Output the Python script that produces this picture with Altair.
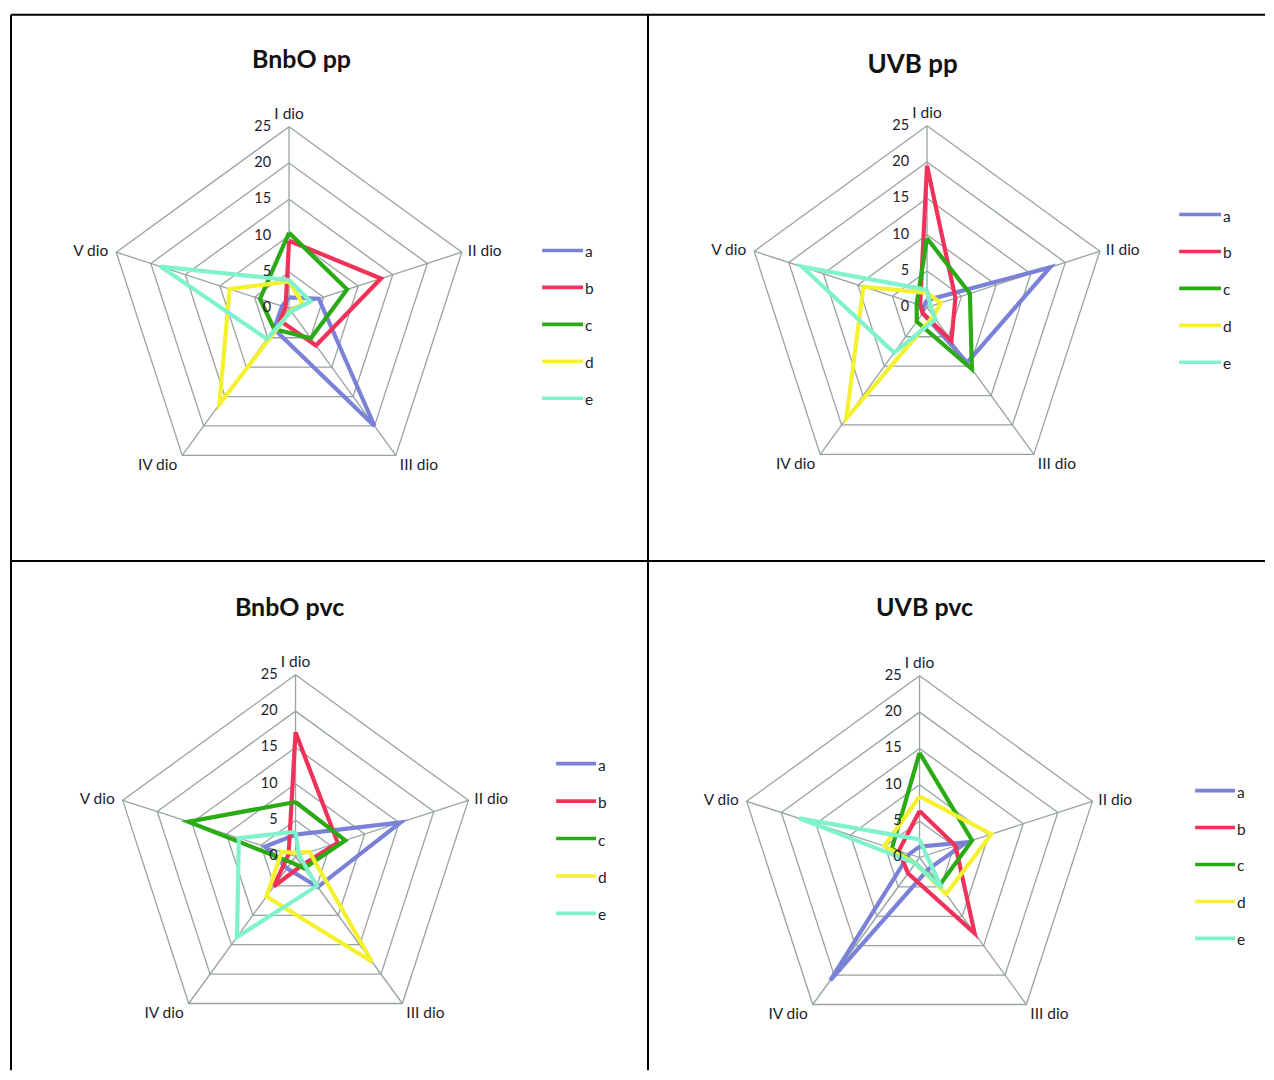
import math
import altair as alt
import pandas as pd

# ---------------- data ----------------
AXES = ["I dio", "II dio", "III dio", "IV dio", "V dio"]
SERIES = ["a", "b", "c", "d", "e"]
TICKS = [0, 5, 10, 15, 20, 25]
COLORS = ["#7a82d8", "#f0325a", "#2aaa14", "#f4f230", "#80f2cc"]
TITLES = ["BnbO pp", "UVB pp", "BnbO pvc", "UVB pvc"]

# values on axes I..V dio
BNBO_PP_A = [1.5, 4.3, 20.0, 3.5, 1.0]
BNBO_PP_B = [9.3, 13.3, 6.3, 2.1, 0.5]
BNBO_PP_C = [10.4, 8.4, 5.1, 3.5, 4.2]
BNBO_PP_D = [3.7, 2.0, 0.4, 16.3, 8.6]
BNBO_PP_E = [3.9, 3.1, 0.5, 5.2, 18.6]

UVB_PP_A = [1.0, 17.8, 9.4, 1.0, 0.5]
UVB_PP_B = [19.5, 4.1, 5.7, 1.0, 1.0]
UVB_PP_C = [9.5, 6.2, 10.5, 2.4, 1.5]
UVB_PP_D = [2.0, 2.0, 1.5, 18.9, 9.2]
UVB_PP_E = [2.4, 0.5, 2.0, 7.7, 18.1]

BNBO_PVC_A = [3.0, 15.2, 5.2, 2.0, 4.4]
BNBO_PVC_B = [17.1, 6.1, 1.5, 5.1, 1.0]
BNBO_PVC_C = [7.5, 7.2, 2.0, 1.0, 15.5]
BNBO_PVC_D = [0.5, 2.0, 17.9, 6.8, 2.0]
BNBO_PVC_E = [3.4, 0.5, 5.0, 13.7, 8.2]

UVB_PVC_A = [1.5, 6.8, 2.0, 20.9, 1.5]
UVB_PVC_B = [6.4, 5.2, 12.9, 2.7, 3.0]
UVB_PVC_C = [14.4, 7.6, 4.7, 1.0, 4.0]
UVB_PVC_D = [8.4, 10.4, 6.2, 1.0, 5.1]
UVB_PVC_E = [2.5, 1.0, 5.2, 1.0, 17.4]

PANEL_DATA = [
    [BNBO_PP_A, BNBO_PP_B, BNBO_PP_C, BNBO_PP_D, BNBO_PP_E],
    [UVB_PP_A, UVB_PP_B, UVB_PP_C, UVB_PP_D, UVB_PP_E],
    [BNBO_PVC_A, BNBO_PVC_B, BNBO_PVC_C, BNBO_PVC_D, BNBO_PVC_E],
    [UVB_PVC_A, UVB_PVC_B, UVB_PVC_C, UVB_PVC_D, UVB_PVC_E],
]

# ---------------- layout ----------------
FONT = "Lato"
R = 182.0
W_LEFT, W_RIGHT = 638, 618
H_TOP, H_BOT = 547, 510

LAYOUT = [
    dict(W=W_LEFT, H=H_TOP, cx=278.5, cy=294, tx=291, ty=45, lx0=532, lx1=573, ly0=236, ls=37,
         borders=["top", "left", "right", "bottom"], title_size=25),
    dict(W=W_RIGHT, H=H_TOP, cx=279.5, cy=293, tx=265, ty=50, lx0=532, lx1=574, ly0=200, ls=37,
         borders=["top", "bottom"], title_size=26),
    dict(W=W_LEFT, H=H_BOT, cx=285, cy=296, tx=279, ty=47, lx0=546, lx1=586, ly0=203, ls=37.5,
         borders=["left", "right"], title_size=25),
    dict(W=W_RIGHT, H=H_BOT, cx=272, cy=297, tx=277, ty=47, lx0=548, lx1=588, ly0=230, ls=37,
         borders=[], title_size=25),
]

ANG = [math.pi / 2 - 2 * math.pi * k / 5 for k in range(5)]
TMAX = TICKS[-1]


def panel(title, lists, L):
    W, H, cx, cy = L["W"], L["H"], L["cx"], L["cy"]
    k = R / TMAX
    xs = alt.Scale(domain=[-cx / k, (W - cx) / k], nice=False, zero=False)
    ys = alt.Scale(domain=[-(H - cy) / k, cy / k], nice=False, zero=False)
    X = lambda f: alt.X(f, type="quantitative", scale=xs, axis=None)
    Y = lambda f: alt.Y(f, type="quantitative", scale=ys, axis=None)

    # rings
    rows = []
    for t in TICKS[1:]:
        for j in range(6):
            a = ANG[j % 5]
            rows.append(dict(ring=t, o=j, x=t * math.cos(a), y=t * math.sin(a)))
    rings = alt.Chart(pd.DataFrame(rows)).mark_line(
        color="#97a2a2", strokeWidth=1.3).encode(
        x=X("x"), y=Y("y"), detail="ring:N", order="o:Q")

    # spokes
    sp = pd.DataFrame([dict(x=0.0, y=0.0, x2=TMAX * math.cos(a), y2=TMAX * math.sin(a)) for a in ANG])
    spokes = alt.Chart(sp).mark_rule(color="#97a2a2", strokeWidth=1.3).encode(
        x=X("x"), y=Y("y"), x2="x2:Q", y2="y2:Q")

    # tick labels
    tk = pd.DataFrame(dict(v=TICKS, x=[0.0] * len(TICKS), lab=[str(t) for t in TICKS]))
    ticks = alt.Chart(tk).mark_text(align="right", baseline="middle", dx=-18, fontSize=14.5,
                                    font=FONT, color="#1c1c2c").encode(
        x=X("x"), y=Y("v"), text="lab:N")

    # axis labels
    ax = pd.DataFrame(dict(name=AXES, x=[TMAX * math.cos(a) for a in ANG],
                           y=[TMAX * math.sin(a) for a in ANG], i=list(range(5))))
    specs = [
        (0, dict(align="center", baseline="bottom", dy=-5)),
        (1, dict(align="left", baseline="middle", dx=6, dy=-1)),
        (2, dict(align="left", baseline="middle", dx=4, dy=10)),
        (3, dict(align="right", baseline="middle", dx=-5, dy=10)),
        (4, dict(align="right", baseline="middle", dx=-8, dy=-1)),
    ]
    axlabels = [
        alt.Chart(ax).transform_filter(alt.datum.i == i).mark_text(
            fontSize=15.5, font=FONT, color="#1c1c2c", **kw).encode(
            x=X("x"), y=Y("y"), text="name:N")
        for i, kw in specs
    ]

    # series polygons
    rows = []
    for s, vals in zip(SERIES, lists):
        for j in range(6):
            a = ANG[j % 5]
            v = vals[j % 5]
            rows.append(dict(series=s, o=j, axis=AXES[j % 5], value=v,
                             x=v * math.cos(a), y=v * math.sin(a)))
    color = alt.Color("series:N", scale=alt.Scale(domain=SERIES, range=COLORS), legend=None)
    lines = alt.Chart(pd.DataFrame(rows)).mark_line(strokeWidth=4.2, strokeJoin="miter").encode(
        x=X("x"), y=Y("y"), color=color, order="o:Q")

    # legend (drawn)
    lg = pd.DataFrame(dict(series=SERIES))
    lg["y"] = [(cy - (L["ly0"] + i * L["ls"])) / k for i in range(len(SERIES))]
    lg["x0"] = (L["lx0"] - cx) / k
    lg["x1"] = (L["lx1"] - cx) / k
    leg_lines = alt.Chart(lg).mark_rule(strokeWidth=3.6).encode(
        x=X("x0"), x2="x1:Q", y=Y("y"), color=color)
    leg_text = alt.Chart(lg).mark_text(align="left", baseline="middle", dx=2, dy=2,
                                       fontSize=15.5, font=FONT, color="#1c1c2c").encode(
        x=X("x1"), y=Y("y"), text="series:N")

    # title
    tt = alt.Chart(pd.DataFrame(dict(t=[title]))).mark_text(
        align="center", baseline="middle", fontSize=L["title_size"], fontWeight="bold", font=FONT,
        color="#111111").encode(x=alt.value(L["tx"]), y=alt.value(L["ty"]), text="t:N")

    # table borders
    one = pd.DataFrame(dict(z=[0]))
    bl = []
    for b in L["borders"]:
        if b == "top":
            enc = dict(x=alt.value(0), x2=alt.value(W), y=alt.value(0))
        elif b == "bottom":
            enc = dict(x=alt.value(0), x2=alt.value(W), y=alt.value(H))
        elif b == "left":
            enc = dict(x=alt.value(0), y=alt.value(0), y2=alt.value(H))
        else:
            enc = dict(x=alt.value(W), y=alt.value(0), y2=alt.value(H))
        bl.append(alt.Chart(one).mark_rule(color="#000000", strokeWidth=2).encode(**enc))

    return alt.layer(rings, spokes, lines, ticks, *axlabels, leg_lines, leg_text, tt, *bl).properties(
        width=W, height=H)


panels = [panel(TITLES[i], PANEL_DATA[i], LAYOUT[i]) for i in range(4)]
chart = alt.concat(*panels, columns=2, spacing=0, bounds="flush").properties(
    padding={"left": 2, "top": 5, "right": 0, "bottom": 0},
    background="white",
).configure_view(stroke=None)

chart.save("out.html", embed_options={"renderer": "svg", "actions": False})
